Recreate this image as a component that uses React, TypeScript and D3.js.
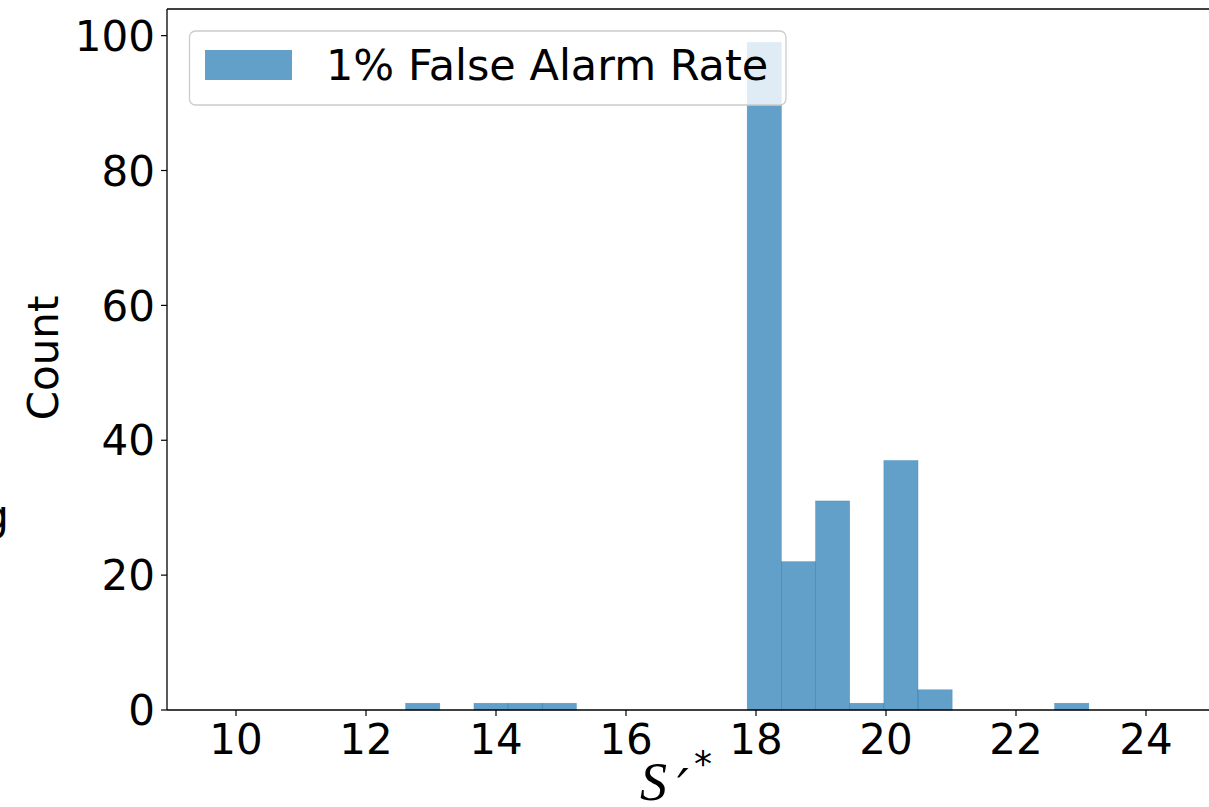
import React from "react";
import * as d3 from "d3";

// Histogram of S'* at the 1% false alarm rate (20 equal bins)
const binLow = 12.61;
const binHigh = 23.12;
const binCounts = [1, 0, 1, 1, 1, 0, 0, 0, 0, 0, 99, 22, 31, 1, 37, 3, 0, 0, 0, 1];
const xTicks = [10, 12, 14, 16, 18, 20, 22, 24];
const yTicks = [0, 20, 40, 60, 80, 100];
const legendLabel = "1% False Alarm Rate";

const W = 1209;
const H = 807;
const left = 167;
const top = 9;
const bottom = 710;
const FONT = "'DejaVu Sans', sans-serif";
const BAR = "rgba(31,119,180,0.7)";

export default function App() {
  const x = d3.scaleLinear().domain([10, 24]).range([236, 1146]);
  const y = d3.scaleLinear().domain([0, 103.95]).range([bottom, top]);
  const nBins = binCounts.length;
  const edges = d3.range(nBins + 1).map((i) => binLow + ((binHigh - binLow) * i) / nBins);

  return (
    <svg
      width={W}
      height={H}
      style={{ position: "absolute", left: 0, top: 0, background: "#fff" }}
      fontFamily={FONT}
    >
      {/* bars */}
      {binCounts.map((c, i) =>
        c > 0 ? (
          <rect
            key={i}
            x={x(edges[i])}
            y={y(c)}
            width={x(edges[i + 1]) - x(edges[i])}
            height={y(0) - y(c)}
            fill={BAR}
            stroke="rgba(31,119,180,0.5)"
            strokeWidth={0.6}
          />
        ) : null
      )}

      {/* spines */}
      <line x1={left} x2={left} y1={top} y2={bottom} stroke="#000" strokeWidth={1.3} />
      <line x1={left} x2={W} y1={bottom} y2={bottom} stroke="#000" strokeWidth={1.3} />
      <line x1={left} x2={W} y1={top} y2={top} stroke="#000" strokeWidth={1.3} />

      {/* y axis */}
      {yTicks.map((t) => (
        <g key={t}>
          <line x1={left - 6} x2={left} y1={y(t)} y2={y(t)} stroke="#000" strokeWidth={1.2} />
          <text x={left - 12} y={y(t)} dy="0.36em" textAnchor="end" fontSize={42} fill="#000">
            {t}
          </text>
        </g>
      ))}

      {/* x axis */}
      {xTicks.map((t) => (
        <g key={t}>
          <line x1={x(t)} x2={x(t)} y1={bottom} y2={bottom + 6} stroke="#000" strokeWidth={1.2} />
          <text x={x(t)} y={754} textAnchor="middle" fontSize={42} fill="#000">
            {t}
          </text>
        </g>
      ))}

      {/* axis labels */}
      <text
        transform={`translate(58, 358) rotate(-90)`}
        textAnchor="middle"
        fontSize={42}
        fill="#000"
      >
        Count
      </text>
      <text x={9} y={530} textAnchor="end" fontSize={42} fill="#000">
        g
      </text>
      <text x={640} y={800} fontSize={54} fontStyle="italic" fontFamily="'Liberation Serif', serif" fill="#000">
        S
      </text>
      <text x={677} y={806} fontSize={52} fontStyle="italic" fontFamily="'DejaVu Sans', sans-serif" fill="#000">
        ′
      </text>
      <text x={694} y={776} fontSize={36} fill="#000">
        *
      </text>

      {/* legend */}
      <rect x={189.5} y={31} width={596.5} height={74} rx={6} fill="rgba(255,255,255,0.8)" stroke="#cccccc" strokeWidth={1.3} />
      <rect x={205} y={50} width={87} height={30} fill={BAR} />
      <text x={326} y={80} fontSize={43} fill="#000">
        {legendLabel}
      </text>
    </svg>
  );
}
